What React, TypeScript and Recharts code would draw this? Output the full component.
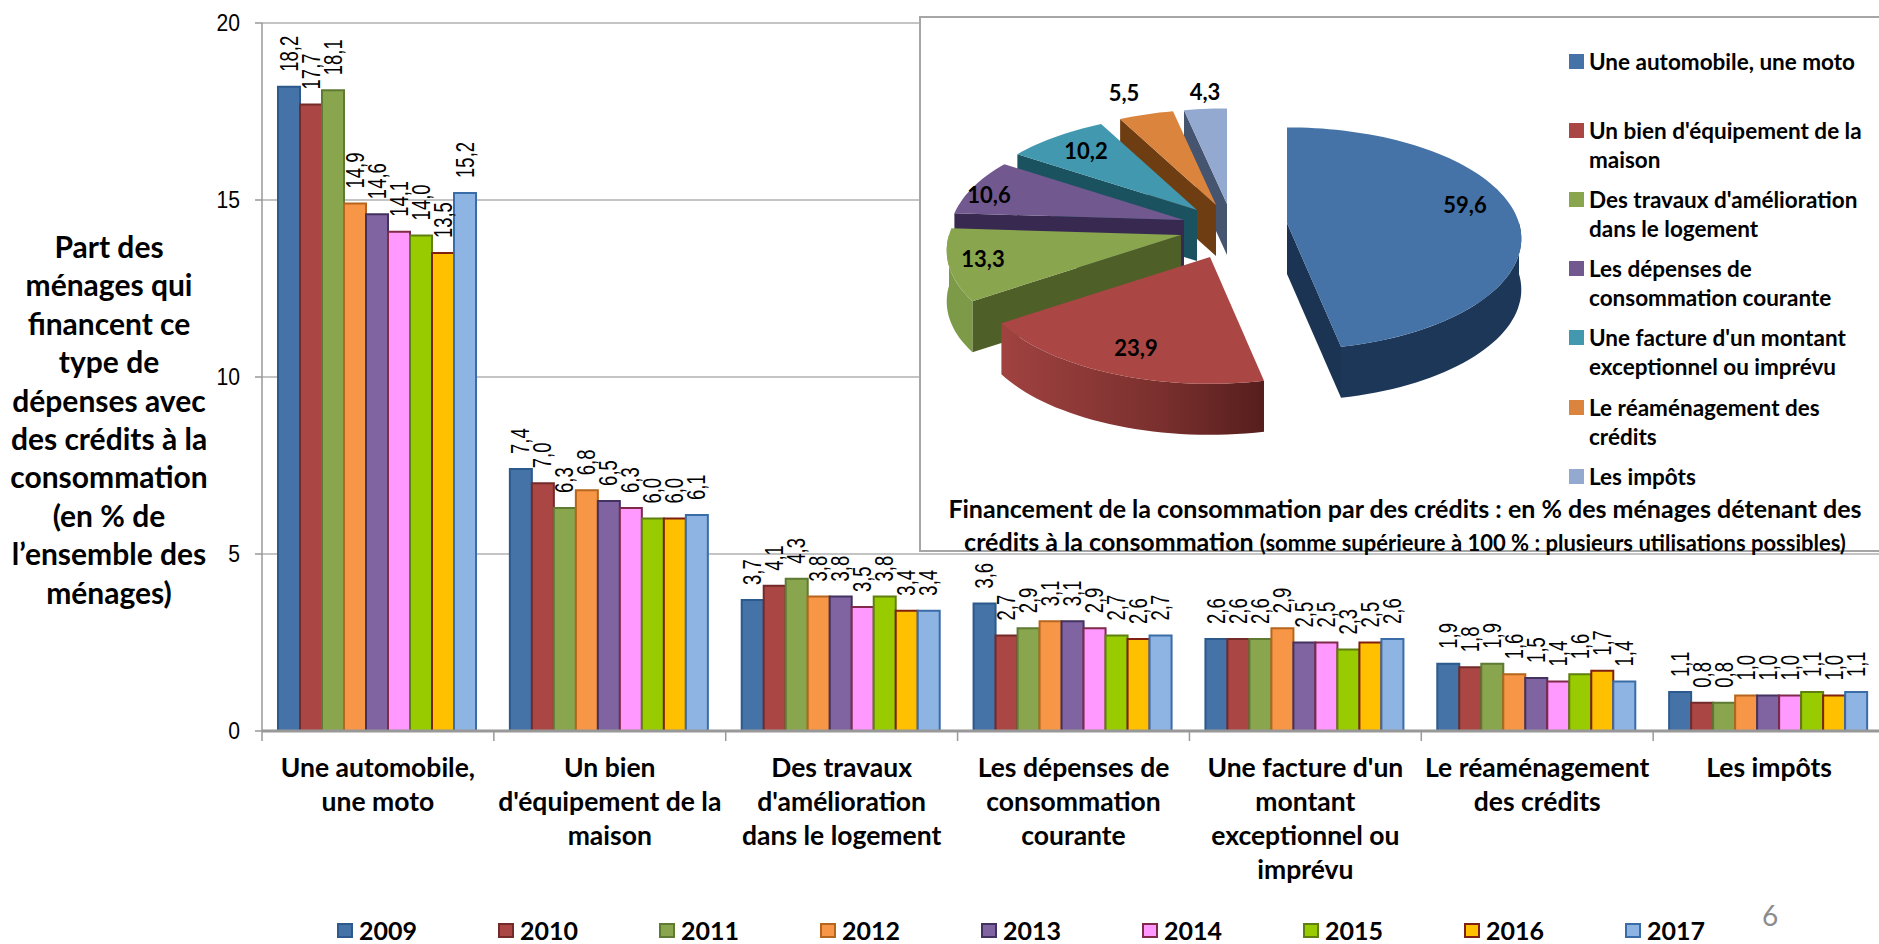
import React from 'react';
import { BarChart, Bar, XAxis, YAxis, CartesianGrid, Legend, LabelList, PieChart, Pie, Cell } from 'recharts';

const categories = ['Une automobile, une moto', "Un bien d'équipement de la maison", "Des travaux d'amélioration dans le logement", 'Les dépenses de consommation courante', "Une facture d'un montant exceptionnel ou imprévu", 'Le réaménagement des crédits', 'Les impôts'];
const categoryLines = [['Une automobile,', 'une moto'], ['Un bien', "d'équipement de la", 'maison'], ['Des travaux', "d'amélioration", 'dans le logement'], ['Les dépenses de', 'consommation', 'courante'], ["Une facture d'un", 'montant', 'exceptionnel ou', 'imprévu'], ['Le réaménagement', 'des crédits'], ['Les impôts']];
const years = ['2009', '2010', '2011', '2012', '2013', '2014', '2015', '2016', '2017'];
const v2009 = [18.2, 7.4, 3.7, 3.6, 2.6, 1.9, 1.1];
const v2010 = [17.7, 7.0, 4.1, 2.7, 2.6, 1.8, 0.8];
const v2011 = [18.1, 6.3, 4.3, 2.9, 2.6, 1.9, 0.8];
const v2012 = [14.9, 6.8, 3.8, 3.1, 2.9, 1.6, 1.0];
const v2013 = [14.6, 6.5, 3.8, 3.1, 2.5, 1.5, 1.0];
const v2014 = [14.1, 6.3, 3.5, 2.9, 2.5, 1.4, 1.0];
const v2015 = [14.0, 6.0, 3.8, 2.7, 2.3, 1.6, 1.1];
const v2016 = [13.5, 6.0, 3.4, 2.6, 2.5, 1.7, 1.0];
const v2017 = [15.2, 6.1, 3.4, 2.7, 2.6, 1.4, 1.1];
const series = [v2009, v2010, v2011, v2012, v2013, v2014, v2015, v2016, v2017];
const barFills = ['#4572A7', '#AA4643', '#89A54E', '#F79646', '#8064A2', '#FF99FF', '#99CC00', '#FFC000', '#8EB4E3'];
const barStrokes = ['#2C5A8C', '#732B2A', '#5F7A33', '#B5651D', '#43325F', '#7F2A4A', '#5F7F10', '#7F2010', '#3A6CA8'];
const yTicks = [0, 5, 10, 15, 20];
const yTitle = ['Part des', 'ménages qui', 'financent ce', 'type de', 'dépenses avec', 'des crédits à la', 'consommation', '(en % de', 'l’ensemble des', 'ménages)'];

const pieNames = ['Une automobile, une moto', "Un bien d'équipement de la maison", "Des travaux d'amélioration dans le logement", 'Les dépenses de consommation courante', "Une facture d'un montant exceptionnel ou imprévu", 'Le réaménagement des crédits', 'Les impôts'];
const pieLegendLines = [['Une automobile, une moto'], ["Un bien d'équipement de la", 'maison'], ["Des travaux d'amélioration", 'dans le logement'], ['Les dépenses de', 'consommation courante'], ["Une facture d'un montant", 'exceptionnel ou imprévu'], ['Le réaménagement des', 'crédits'], ['Les impôts']];
const pieValues = [59.6, 23.9, 13.3, 10.6, 10.2, 5.5, 4.3];
const pieFills = ['#4572A7', '#AA4643', '#89A54E', '#71588F', '#4198AF', '#DB843D', '#93A9CF'];
const pieEdgeWalls = ['#1B3454', '#5A201F', '#4E5F27', '#37294F', '#1A5260', '#6E3D12', '#46556F'];
const pieOuterWalls = ['#1D3759', 'url(#redWall)', '#7D9A48', '#37294F', '#1A5260', '#6E3D12', '#46556F'];

const explode = [[68, -3], [-9, 31], [-38, 9], [-35, -6], [-22, -16], [-3, -21], [8, -22]];
const labelShift = [[178, -19], [-74, 90], [-198, 23], [-195, -26], [-111, -60], [-92, -113], [-22, -113]];

const rows = categories.map((c, i) => {
  const r: any = { name: c };
  years.forEach((y, k) => { r[y] = series[k][i]; });
  return r;
});
const pieRows = pieNames.map((name, i) => ({ name, value: pieValues[i], idx: i })).reverse();

const fr = (v: number) => v.toFixed(1).replace('.', ',');
const SANS = 'Lato, "Open Sans", sans-serif';
const PLOT_LEFT = 262, PLOT_RIGHT = 1885, BAND = (PLOT_RIGHT - PLOT_LEFT) / 7;
const TILT = 0.47, PERSP = 0.14, DEPTH = 51;

const project = (theta: number, r: number) => {
  const t = (theta * Math.PI) / 180;
  const u = Math.sin(t), v = -Math.cos(t);
  const s = 1 / (1 - PERSP * v);
  return [r * u * s, r * TILT * v * s];
};
const arcPoints = (a: number, b: number, r: number, ox: number, oy: number) => {
  const pts: number[][] = [];
  const n = Math.max(2, Math.ceil((b - a) / 2));
  for (let i = 0; i <= n; i++) {
    const p = project(a + ((b - a) * i) / n, r);
    pts.push([ox + p[0], oy + p[1]]);
  }
  return pts;
};
const toPath = (pts: number[][]) => 'M' + pts.map((p) => `${p[0].toFixed(1)},${p[1].toFixed(1)}`).join('L') + 'Z';

const Slice3D = (props: any) => {
  const { cx, cy, outerRadius, startAngle, endAngle } = props;
  const idx = props.idx ?? props.payload?.idx ?? 0;
  let a = 90 - Math.max(startAngle, endAngle);
  let b = 90 - Math.min(startAngle, endAngle);
  while (a < 0) { a += 360; b += 360; }
  const ox = cx + explode[idx][0], oy = cy + explode[idx][1];
  const top = [[ox, oy], ...arcPoints(a, b, outerRadius, ox, oy)];
  const down = (pts: number[][]) => pts.map((p) => [p[0], p[1] + DEPTH]);
  const s1 = Math.max(a, 90), s2 = Math.min(b, 270);
  const outer = s2 > s1 ? arcPoints(s1, s2, outerRadius, ox, oy) : null;
  const edgeTheta = Math.sin((b * Math.PI) / 180) > 0.01 ? b : Math.sin((a * Math.PI) / 180) < -0.01 ? a : null;
  let edge: number[][] | null = null;
  if (edgeTheta !== null) {
    const p = project(edgeTheta, outerRadius);
    const seg = [[ox, oy], [ox + p[0], oy + p[1]]];
    edge = [...seg, ...down(seg).reverse()];
  }
  return (
    <g>
      <defs>
        <linearGradient id="redWall" x1="0" y1="0" x2="1" y2="0">
          <stop offset="0" stopColor="#A04240" />
          <stop offset="0.6" stopColor="#7A302E" />
          <stop offset="1" stopColor="#561E1D" />
        </linearGradient>
      </defs>
      {edge && <path d={toPath(edge)} fill={pieEdgeWalls[idx]} />}
      {outer && <path d={toPath([...outer, ...down(outer).reverse()])} fill={pieOuterWalls[idx]} />}
      <path d={toPath(top)} fill={pieFills[idx]} />
      <text x={ox + labelShift[idx][0]} y={oy + labelShift[idx][1]} textAnchor="middle" dominantBaseline="central" fontFamily={SANS} fontWeight={700} fontSize={22} fill="#000">{fr(pieValues[idx])}</text>
    </g>
  );
};

const CategoryTick = (props: any) => {
  const { x, y, index } = props;
  const lines = categoryLines[index] || [];
  return (
    <g>
      <line x1={x - BAND / 2} x2={x - BAND / 2} y1={y - 8} y2={y + 2} stroke="#999" strokeWidth={1.5} />
      <text textAnchor="middle" fontFamily={SANS} fontWeight={700} fontSize={26.5} fill="#000">
        {lines.map((l, i) => <tspan key={l} x={x} y={y + 38 + i * 34}>{l}</tspan>)}
      </text>
    </g>
  );
};

const ValueTick = (props: any) => {
  const { x, y, payload } = props;
  return <text x={0} y={0} transform={`translate(${x - 13} ${y}) scale(0.88 1)`} textAnchor="end" dominantBaseline="central" fontFamily='"Liberation Sans", Arial, sans-serif' fontSize={24} fill="#000">{payload.value}</text>;
};

const RotLabel = (props: any) => {
  const { x, y, width, value } = props;
  const px = x + width / 2, py = y - 15;
  return <text x={0} y={0} transform={`translate(${px} ${py}) rotate(-90) scale(0.74 1)`} textAnchor="start" dominantBaseline="central" fontFamily='"Liberation Sans", Arial, sans-serif' fontSize={25} fill="#000">{fr(value)}</text>;
};

const YearLegend = (props: any) => (
  <div style={{ display: 'flex', height: 40, alignItems: 'flex-start', fontFamily: SANS, fontWeight: 700, fontSize: 25, color: '#000', lineHeight: '28px' }}>
    {(props.payload || []).map((e: any, i: number) => (
      <div key={e.value} style={{ width: 161, display: 'flex', alignItems: 'center', flex: 'none' }}>
        <span style={{ width: 16, height: 15, boxSizing: 'border-box', background: barFills[i], border: `2px solid ${barStrokes[i]}`, marginRight: 6, display: 'block' }} />
        <span>{e.value}</span>
      </div>
    ))}
  </div>
);

const legendRowTops = [45, 114, 183, 252, 321, 391, 460];
const PieLegend = () => (
  <div style={{ position: 'relative', width: 310, height: 480, fontFamily: SANS, fontWeight: 700, fontSize: 22.5, color: '#000', lineHeight: '29px' }}>
    {pieLegendLines.map((lines, i) => (
      <div key={i} style={{ position: 'absolute', left: 0, top: legendRowTops[i] - 45 }}>
        <span style={{ position: 'absolute', left: 0, top: 7, width: 15, height: 15, background: pieFills[i] }} />
        <div style={{ marginLeft: 20, whiteSpace: 'nowrap' }}>{lines.map((l) => <div key={l}>{l}</div>)}</div>
      </div>
    ))}
  </div>
);

export default function App() {
  return (
    <div style={{ position: 'absolute', left: 0, top: 0, width: 1879, height: 944, overflow: 'hidden', background: '#fff' }}>
      <BarChart width={1900} height={944} data={rows} barCategoryGap={16} barGap={0} margin={{ top: 23, right: 15, bottom: 0, left: PLOT_LEFT - 60 }}>
        <CartesianGrid vertical={false} stroke="#C4C4C4" strokeWidth={2} />
        <XAxis dataKey="name" interval={0} height={173} tick={<CategoryTick />} tickLine={false} axisLine={{ stroke: '#989898', strokeWidth: 3 }} />
        <YAxis width={60} domain={[0, 20]} ticks={yTicks} tick={<ValueTick />} tickSize={7} tickLine={{ stroke: '#999', strokeWidth: 1.5 }} axisLine={{ stroke: '#999', strokeWidth: 1.5 }} />
        <Legend verticalAlign="bottom" height={40} content={<YearLegend />} wrapperStyle={{ left: 337, width: 1500, bottom: -12 }} itemSorter={null} />
        {years.map((y, i) => (
          <Bar key={y} dataKey={y} name={y} fill={barFills[i]} stroke={barStrokes[i]} strokeWidth={2} isAnimationActive={false}>
            <LabelList dataKey={y} content={<RotLabel />} />
          </Bar>
        ))}
      </BarChart>

      <div style={{ position: 'absolute', left: 0, top: 227, width: 218, textAlign: 'center', fontFamily: SANS, fontWeight: 700, fontSize: 30, lineHeight: '38.4px', color: '#000', whiteSpace: 'nowrap' }}>
        {yTitle.map((l) => <div key={l}>{l}</div>)}
      </div>
      <div style={{ position: 'absolute', left: 1762, top: 898, fontFamily: SANS, fontSize: 28, color: '#8C8C8C' }}>6</div>

      <div style={{ position: 'absolute', left: 919, top: 16, width: 970, height: 536, background: '#fff', border: '2px solid #A6A6A6', boxSizing: 'border-box' }} />
      <div style={{ position: 'absolute', left: 919, top: 16, width: 960, height: 536 }}>
        <PieChart width={960} height={536} margin={{ top: 0, right: 0, bottom: 0, left: 0 }}>
          <Pie data={pieRows} dataKey="value" nameKey="name" cx={300} cy={210} outerRadius={232} startAngle={90} endAngle={450} stroke="none" isAnimationActive={false} label={false} labelLine={false} shape={<Slice3D />}>
            {pieRows.map((r) => <Cell key={r.name} fill={pieFills[r.idx]} />)}
          </Pie>
          <Legend content={<PieLegend />} layout="vertical" align="right" verticalAlign="top" wrapperStyle={{ left: 650, top: 31, width: 310 }} />
        </PieChart>
      </div>
      <div style={{ position: 'absolute', left: 919, top: 490, width: 960, textAlign: 'center', fontFamily: SANS, fontWeight: 700, color: '#000', whiteSpace: 'nowrap' }}>
        <div style={{ fontSize: 25, lineHeight: '36px', paddingLeft: 12 }}>Financement de la consommation par des crédits : en % des ménages détenant des</div>
        <div style={{ fontSize: 25, lineHeight: '30px', paddingLeft: 12 }}>crédits à la consommation <span style={{ fontSize: 22 }}>(somme supérieure à 100 % : plusieurs utilisations possibles)</span></div>
      </div>
    </div>
  );
}
